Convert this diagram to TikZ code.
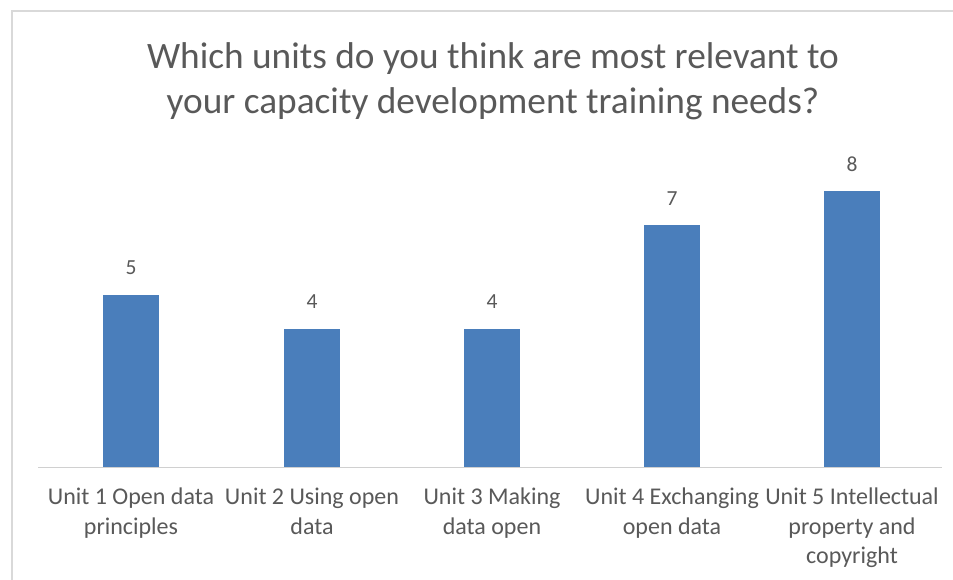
\documentclass[tikz,border=0pt]{standalone}
\usepackage{fontspec}
\setmainfont{Carlito}
\definecolor{barblue}{HTML}{4A7EBB}
\definecolor{txtgray}{HTML}{595959}
\definecolor{framegray}{HTML}{D9D9D9}
\definecolor{axisgray}{HTML}{D0D0D0}
\begin{document}
\begin{tikzpicture}[x=1pt,y=-1pt,
  bar/.style={fill=barblue,draw=none},
  vallabel/.style={text=txtgray,font=\fontsize{21.5}{25}\selectfont,inner sep=0pt},
  catlabel/.style={text=txtgray,font=\fontsize{24}{29.5}\selectfont,align=center,anchor=north,inner sep=0pt},
  titlestyle/.style={text=txtgray,font=\fontsize{37.3}{45}\selectfont,align=center,inner sep=0pt}]
\useasboundingbox (0,0) rectangle (953,580);
\fill[white] (0,0) rectangle (953,580);
% frame
\draw[framegray,line width=1.5pt] (12,580) -- (12,11) -- (953,11);
% title
\node[titlestyle] (title) at (493,81) {Which units do you think are most relevant to\\your capacity development training needs?};
% axis
\coordinate (axL) at (38,467);
\coordinate (axR) at (942,467);
% bars
\fill[bar] (103,467) rectangle (159,295);
\fill[bar] (284,467) rectangle (340,329);
\fill[bar] (464,467) rectangle (520,329);
\fill[bar] (644,467) rectangle (700,225);
\fill[bar] (824,467) rectangle (880,191);
\draw[axisgray,line width=1pt] (axL) -- (axR);
% values
\node[vallabel] (v1) at (131,268) {5};
\node[vallabel] (v2) at (312,302) {4};
\node[vallabel] (v3) at (492,302) {4};
\node[vallabel] (v4) at (672,199) {7};
\node[vallabel] (v5) at (852,164) {8};
% categories
\node[catlabel] (c1) at (131,488) {Unit 1 Open data\\principles};
\node[catlabel] (c2) at (312,488) {Unit 2 Using open\\data};
\node[catlabel] (c3) at (492,488) {Unit 3 Making\\data open};
\node[catlabel] (c4) at (672,488) {Unit 4 Exchanging\\open data};
\node[catlabel] (c5) at (852,488) {Unit 5 Intellectual\\property and\\copyright};
\end{tikzpicture}
\end{document}
